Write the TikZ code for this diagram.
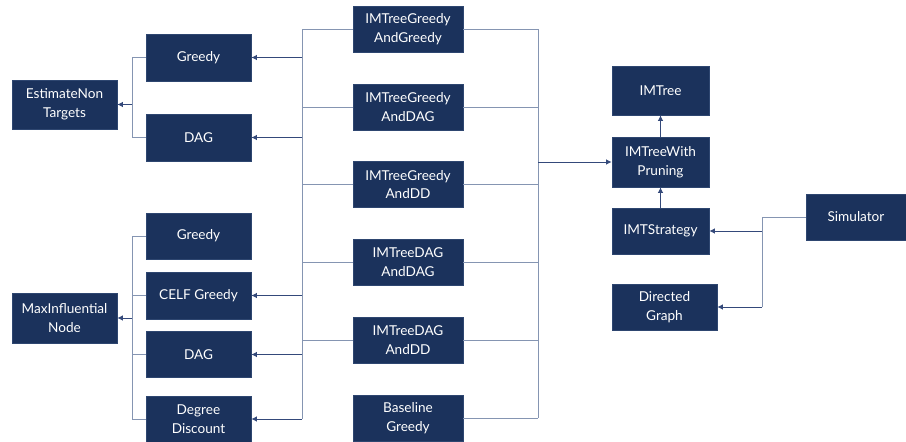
\documentclass[tikz,border=0pt]{standalone}
\usepackage{fontspec}
\setmainfont{Lato}
\usepackage{tikz}
\usetikzlibrary{arrows.meta}
\definecolor{navy}{HTML}{1B325C}
\definecolor{navyedge}{HTML}{2E4670}
\definecolor{linkgray}{HTML}{8595B2}
\definecolor{feedblue}{HTML}{34497A}
\tikzset{
	box/.style={rectangle, fill=navy, draw=navyedge, line width=0.6pt, text=white, align=center,
		inner sep=0pt, minimum width=105pt, minimum height=46pt,
		font=\fontsize{13.6}{18.5}\selectfont},
	imtbox/.style={box, minimum width=110pt},
	corebox/.style={box, minimum width=97pt},
	link/.style={draw=linkgray, line width=1pt},
	feed/.style={draw=feedblue, line width=1pt, -{Latex[length=5.5pt,width=5.5pt]}}
}
\begin{document}
\begin{tikzpicture}[x=1pt,y=-1pt]
	\useasboundingbox (0,0) rectangle (906,442);
	% left column
	\node[box, minimum height=49pt] (est) at (64.5,104.5) {EstimateNon\\Targets};
	\node[box, minimum height=50pt] (maxi) at (64.5,318) {MaxInfluential\\Node};
	% helper classes
	\node[box, minimum height=47pt] (greedyA) at (198.5,57.5) {Greedy};
	\node[box, minimum height=47pt] (dagA) at (198.5,137.5) {DAG};
	\node[box] (greedyB) at (198.5,236) {Greedy};
	\node[box, minimum height=47pt] (celf) at (198.5,295.5) {CELF Greedy};
	\node[box] (dagB) at (198.5,354.5) {DAG};
	\node[box] (degdisc) at (198.5,419) {Degree\\Discount};
	% tree strategies
	\node[imtbox] (tGG) at (408,29) {IMTreeGreedy\\AndGreedy};
	\node[imtbox] (tGDAG) at (408,107) {IMTreeGreedy\\AndDAG};
	\node[imtbox] (tGDD) at (408,184.5) {IMTreeGreedy\\AndDD};
	\node[imtbox] (tDAGDAG) at (408,262) {IMTreeDAG\\AndDAG};
	\node[imtbox] (tDAGDD) at (408,340) {IMTreeDAG\\AndDD};
	\node[imtbox] (base) at (408,418) {Baseline\\Greedy};
	% core
	\node[corebox, minimum height=49pt] (imtree) at (660.5,90.5) {IMTree};
	\node[corebox, minimum height=50pt] (pruning) at (660.5,162) {IMTreeWith\\Pruning};
	\node[corebox] (strategy) at (660.5,231) {IMTStrategy};
	\node[box] (dgraph) at (664.5,307) {Directed\\Graph};
	\node[box, minimum width=100pt] (sim) at (856,217) {Simulator};

	% bus lines
	\coordinate (ebus) at (132,0);
	\coordinate (lbus) at (302,0);
	\coordinate (rbus) at (538,0);
	\coordinate (sbus) at (762,0);

	% into EstimateNonTargets
	\draw[link] (greedyA.west) -- (greedyA.west -| ebus) -- (dagA.west -| ebus) -- (dagA.west);
	\draw[feed] (est.east -| ebus) -- (est.east);
	% into MaxInfluentialNode
	\draw[link] (greedyB.west) -- (greedyB.west -| ebus) -- (degdisc.west -| ebus) -- (degdisc.west);
	\foreach \n in {celf,dagB}
		\draw[link] (\n.west) -- (\n.west -| ebus);
	\draw[feed] (maxi.east -| ebus) -- (maxi.east);

	% left side of the tree strategies
	\draw[link] (tGG.west -| lbus) -- (degdisc.east -| lbus);
	\foreach \n in {tGG,tGDAG,tGDD,tDAGDAG,tDAGDD}
		\draw[link] (\n.west) -- (\n.west -| lbus);
	\foreach \n in {greedyA,dagA,celf,dagB,degdisc}
		\draw[feed] (\n.east -| lbus) -- (\n.east);

	% right side of the tree strategies
	\draw[link] (tGG.east -| rbus) -- (base.east -| rbus);
	\foreach \n in {tGG,tGDAG,tGDD,tDAGDAG,tDAGDD,base}
		\draw[link] (\n.east) -- (\n.east -| rbus);
	\draw[feed] (pruning.west -| rbus) -- (pruning.west);

	% core chain
	\draw[feed] (pruning.north) -- (imtree.south);
	\draw[feed] (strategy.north) -- (pruning.south);
	\draw[link] (sim.west) -- (sim.west -| sbus) -- (dgraph.east -| sbus);
	\draw[feed] (dgraph.east -| sbus) -- (dgraph.east);
	\draw[feed] (strategy.east -| sbus) -- (strategy.east);
\end{tikzpicture}
\end{document}
